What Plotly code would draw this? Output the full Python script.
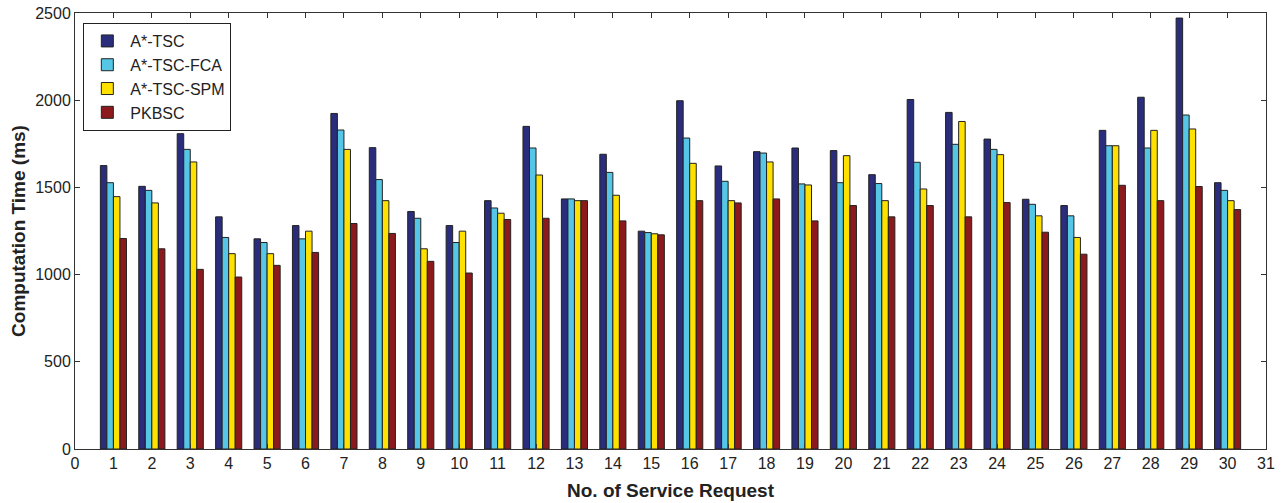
import plotly.graph_objects as go

requests = list(range(1, 31))
a_tsc = [1625, 1506, 1808, 1331, 1205, 1281, 1924, 1728, 1362, 1281,
         1424, 1850, 1434, 1690, 1249, 1997, 1623, 1705, 1726, 1711,
         1573, 2004, 1930, 1777, 1432, 1396, 1827, 2017, 2471, 1527]
a_tsc_fca = [1527, 1483, 1718, 1213, 1184, 1205, 1829, 1545, 1323, 1184,
             1382, 1726, 1434, 1586, 1241, 1783, 1535, 1697, 1520, 1527,
             1522, 1644, 1747, 1718, 1403, 1337, 1739, 1726, 1915, 1483]
a_tsc_spm = [1447, 1411, 1646, 1120, 1120, 1249, 1718, 1424, 1148, 1249,
             1352, 1571, 1424, 1455, 1234, 1638, 1424, 1646, 1514, 1682,
             1424, 1491, 1878, 1688, 1337, 1213, 1739, 1827, 1835, 1424]
pkbsc = [1207, 1148, 1030, 986, 1053, 1127, 1293, 1236, 1076, 1009,
         1316, 1323, 1424, 1308, 1228, 1424, 1411, 1434, 1308, 1396,
         1331, 1396, 1331, 1413, 1243, 1117, 1512, 1424, 1505, 1373]

series = [
    ("A*-TSC", a_tsc, "#2a2d7c"),
    ("A*-TSC-FCA", a_tsc_fca, "#55c6e6"),
    ("A*-TSC-SPM", a_tsc_spm, "#ffe100"),
    ("PKBSC", pkbsc, "#8c1a1d"),
]

FONT = "Liberation Sans, Arial, sans-serif"

fig = go.Figure()
for name, vals, col in series:
    fig.add_trace(go.Bar(
        x=requests, y=vals, name=name,
        marker=dict(color=col, line=dict(color="#222222", width=1)),
    ))

axis_common = dict(
    showline=True, linecolor="#333333", linewidth=1, mirror="ticks",
    ticks="inside", ticklen=5, tickcolor="#333333", showgrid=False,
    zeroline=False, automargin=False,
    tickfont=dict(family=FONT, size=16, color="#222222"),
)

fig.update_layout(
    width=1283, height=503,
    margin=dict(l=75, r=17, t=13, b=54),
    plot_bgcolor="white", paper_bgcolor="white",
    barmode="group", bargap=0.32, bargroupgap=0.0,
    font=dict(family=FONT, size=16, color="#222222"),
    xaxis=dict(range=[0, 31], dtick=1, tick0=0,
               title=dict(text="<b>No. of Service Request</b>",
                          font=dict(family=FONT, size=19, color="#222222"),
                          standoff=12),
               **axis_common),
    yaxis=dict(range=[0, 2500], dtick=500, tick0=0,
               title=dict(text="<b>Computation Time (ms)</b>",
                          font=dict(family=FONT, size=19, color="#222222"),
                          standoff=4),
               **axis_common),
    legend=dict(x=0.007, y=0.977, xanchor="left", yanchor="top",
                bordercolor="#222222", borderwidth=1, bgcolor="white",
                font=dict(family=FONT, size=16, color="#222222"),
                itemwidth=36, tracegroupgap=0, traceorder="normal"),
)

fig.write_html("out.html", config={"displayModeBar": False},
               post_script="document.body.style.margin='0';")
